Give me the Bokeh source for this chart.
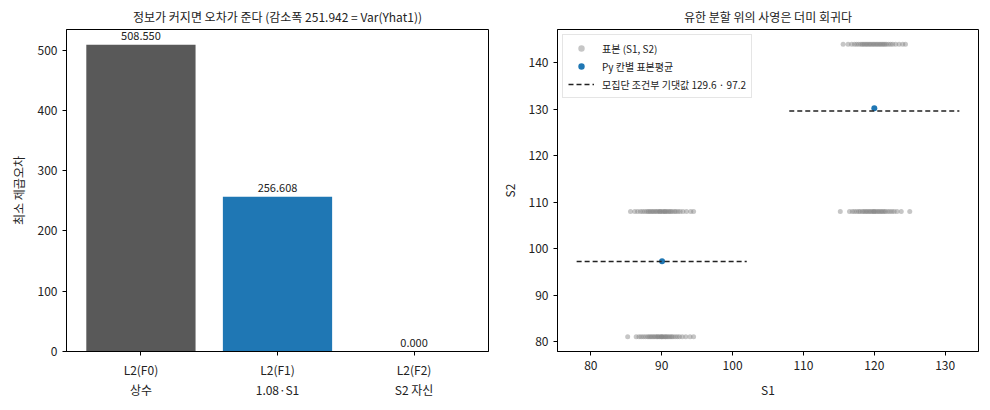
import numpy as np

from bokeh.embed import file_html
from bokeh.resources import INLINE
from bokeh.layouts import row
from bokeh.models import ColumnDataSource, FixedTicker, Legend, LegendItem, Range1d
from bokeh.plotting import figure

FONT = "Noto Sans CJK KR"

# ---- left panel: least squares error per predictor
bar_names = ["L2(F0)\n상수", "L2(F1)\n1.08·S1", "L2(F2)\nS2 자신"]
bar_values = [508.550, 256.608, 0.000]
bar_colors = ["#595959", "#1f77b4", "#ff7f0e"]

s1_cell_a = [85.2, 86.4, 86.8, 87.1, 87.4, 87.7, 88.0, 88.2, 88.4, 88.6, 88.8, 89.0,
             89.2, 89.4, 89.5, 89.7, 89.9, 90.0, 90.1, 90.3, 90.5, 90.6, 90.8, 91.0,
             91.2, 91.4, 91.6, 91.9, 92.2, 92.5, 92.9, 93.4, 94.0, 94.5]
s2_cell_a = 81
s1_cell_b = [85.6, 86.2, 86.6, 87.0, 87.3, 87.6, 87.9, 88.1, 88.3, 88.5, 88.7, 88.9,
             89.1, 89.3, 89.5, 89.7, 89.8, 90.0, 90.2, 90.4, 90.5, 90.7, 90.9, 91.1,
             91.3, 91.5, 91.8, 92.0, 92.3, 92.6, 93.0, 93.5, 94.1, 94.5]
s2_cell_b = 108
s1_cell_c = [115.2, 116.5, 116.9, 117.2, 117.5, 117.8, 118.0, 118.3, 118.5, 118.7,
             118.9, 119.1, 119.3, 119.5, 119.7, 119.9, 120.0, 120.2, 120.4, 120.6,
             120.8, 121.0, 121.2, 121.4, 121.6, 121.9, 122.2, 122.5, 122.8, 123.2,
             123.8, 125.0]
s2_cell_c = 108
s1_cell_d = [115.6, 116.3, 116.8, 117.2, 117.5, 117.8, 118.1, 118.3, 118.5, 118.7,
             118.9, 119.1, 119.3, 119.5, 119.7, 119.9, 120.1, 120.3, 120.5, 120.7,
             120.9, 121.1, 121.3, 121.5, 121.7, 122.0, 122.3, 122.6, 123.0, 123.5,
             124.0, 124.4]
s2_cell_d = 144

mean_s1 = [90.05, 120.0]
mean_s2 = [97.3, 130.2]

cond_x0 = [78, 108]
cond_x1 = [102, 132]
cond_y = [97.2, 129.6]

def style(p):
    p.outline_line_color = "black"
    p.outline_line_width = 1
    p.xgrid.visible = False
    p.ygrid.visible = False
    for ax in p.axis:
        ax.axis_line_color = "black"
        ax.major_tick_line_color = "black"
        ax.major_tick_out = 4
        ax.major_tick_in = 0
        ax.minor_tick_line_color = None
        ax.major_label_text_font = FONT
        ax.major_label_text_font_size = "12px"
        ax.major_label_text_color = "#222222"
        ax.axis_label_text_font = FONT
        ax.axis_label_text_font_size = "12px"
        ax.axis_label_text_font_style = "normal"
        ax.axis_label_text_color = "#222222"
        ax.axis_label_standoff = 8
    p.title.text_font = FONT
    p.title.text_font_size = "12px"
    p.title.text_font_style = "normal"
    p.title.align = "center"
    p.title.text_color = "#222222"

# ////////////////////////////////////////////////////////////////////
p1 = figure(frame_width=422, frame_height=322, min_border_left=66, min_border_right=9,
            min_border_top=23, min_border_bottom=50,
            x_range=Range1d(-0.545, 2.545), y_range=Range1d(0, 534),
            title="정보가 커지면 오차가 준다 (감소폭 251.942 = Var(Yhat1))",
            output_backend="svg", toolbar_location=None)

xs = list(range(len(bar_values)))
src = ColumnDataSource(data=dict(x=xs, top=bar_values, color=bar_colors,
                                 label=["%.3f" % v for v in bar_values]))
p1.vbar(x="x", top="top", width=0.8, color="color", line_width=0, source=src)
p1.text(x="x", y="top", text="label", source=src, text_align="center",
        text_baseline="bottom", y_offset=-5, text_font_size="11px",
        text_font={"value": FONT}, text_color="#222222")

p1.xaxis.ticker = FixedTicker(ticks=xs)
p1.xaxis.major_label_overrides = {i: n for i, n in enumerate(bar_names)}
p1.yaxis.ticker = FixedTicker(ticks=[0, 100, 200, 300, 400, 500])
p1.yaxis.axis_label = "최소 제곱오차"
style(p1)

# ////////////////////////////////////////////////////////////////////
p2 = figure(frame_width=421, frame_height=322, min_border_left=53, min_border_right=2,
            min_border_top=23, min_border_bottom=50,
            x_range=Range1d(75.3, 134.7), y_range=Range1d(77.85, 147.15),
            title="유한 분할 위의 사영은 더미 회귀다",
            output_backend="svg", toolbar_location=None)

s1_all = s1_cell_a + s1_cell_b + s1_cell_c + s1_cell_d
s2_all = ([s2_cell_a] * len(s1_cell_a) + [s2_cell_b] * len(s1_cell_b)
          + [s2_cell_c] * len(s1_cell_c) + [s2_cell_d] * len(s1_cell_d))
r_samp = p2.scatter(s1_all, s2_all, size=5, color="gray", alpha=0.45, line_width=0)
r_mean = p2.scatter(mean_s1, mean_s2, size=6, color="#1f77b4", line_width=0)
r_cond = p2.segment(x0=cond_x0, x1=cond_x1, y0=cond_y, y1=cond_y,
                    line_color="#222222", line_width=1.5, line_dash="5 3")

p2.xaxis.ticker = FixedTicker(ticks=[80, 90, 100, 110, 120, 130])
p2.yaxis.ticker = FixedTicker(ticks=[80, 90, 100, 110, 120, 130, 140])
p2.xaxis.axis_label = "S1"
p2.yaxis.axis_label = "S2"
style(p2)

legend = Legend(items=[
    LegendItem(label="표본 (S1, S2)", renderers=[r_samp]),
    LegendItem(label="Py 칸별 표본평균", renderers=[r_mean]),
    LegendItem(label="모집단 조건부 기댓값 129.6 · 97.2", renderers=[r_cond]),
], location="top_left")
legend.label_text_font = FONT
legend.label_text_font_size = "10px"
legend.label_text_color = "#222222"
legend.border_line_color = "#cccccc"
legend.border_line_width = 1
legend.padding = 5
legend.spacing = 2
legend.margin = 5
legend.glyph_width = 26
legend.glyph_height = 16
legend.label_height = 16
legend.label_standoff = 8
p2.add_layout(legend)

layout = row(p1, p2)
open("out.html", "w").write(file_html(layout, INLINE))
